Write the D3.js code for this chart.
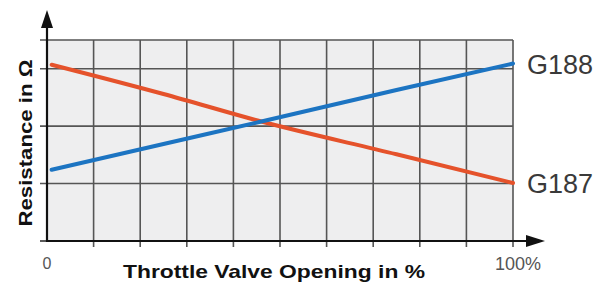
<!DOCTYPE html>
<html lang="en">
<head>
    <meta charset="UTF-8">
    <title>Throttle valve resistance</title>
    <script src="https://d3js.org/d3.v7.min.js"></script>
    <style>
        body {margin: 0; background: #fff;}
        text {font-family: "Liberation Sans", Arial, sans-serif;}
    </style>
</head>
<body>
<script>
    // values: opening in %, resistance in grid units
    const opening = [1, 25, 46, 75, 100];
    const g187 = [3.07, 2.56, 2.08, 1.51, 1.01];
    const g188 = [1.24, 1.69, 2.08, 2.63, 3.09];
    const xTicks = [0, 10, 20, 30, 40, 50, 60, 70, 80, 90, 100];
    const yTicks = [0, 1, 2, 3, 3.5];
    const series = [
        {name: "G187", values: g187, color: "#e5522b"},
        {name: "G188", values: g188, color: "#1c74c2"}
    ];

    const width = 608, height = 283;
    const plotLeft = 47, plotRight = 513, plotTop = 40, plotBottom = 241;

    const svg = d3.select("body").append("svg")
            .attr("width", width).attr("height", height);

    const x = d3.scaleLinear().domain([0, 100]).range([plotLeft, plotRight]);
    const y = d3.scaleLinear().domain([0, 3.5]).range([plotBottom, plotTop]);

    // plot background
    svg.append("rect")
            .attr("x", x(0)).attr("y", y(3.5))
            .attr("width", x(100) - x(0)).attr("height", y(0) - y(3.5))
            .style("fill", "#eeeeef");

    // vertical grid lines with ticks below the axis
    svg.append("g").selectAll("line")
            .data(xTicks.slice(1))
            .enter().append("line")
            .attr("x1", d => x(d)).attr("x2", d => x(d))
            .attr("y1", y(3.5)).attr("y2", y(0) + 6)
            .style("stroke", "#555")
            .style("stroke-width", 1.6);

    // horizontal grid lines with ticks left of the axis
    svg.append("g").selectAll("line")
            .data(yTicks.slice(1))
            .enter().append("line")
            .attr("x1", x(0) - 7).attr("x2", x(100))
            .attr("y1", d => y(d)).attr("y2", d => y(d))
            .style("stroke", "#555")
            .style("stroke-width", 1.6);
    svg.append("line")
            .attr("x1", x(0) - 7).attr("x2", x(0))
            .attr("y1", y(0)).attr("y2", y(0))
            .style("stroke", "#333").style("stroke-width", 1.6);

    // curves
    const line = d3.line()
            .x((d, i) => x(opening[i]))
            .y(d => y(d))
            .curve(d3.curveMonotoneX);

    svg.append("g").selectAll("path")
            .data(series)
            .enter().append("path")
            .attr("d", d => line(d.values))
            .style("fill", "none")
            .style("stroke", d => d.color)
            .style("stroke-width", 4)
            .style("stroke-linecap", "round");

    // axes with arrows
    svg.append("line")
            .attr("x1", x(0)).attr("x2", x(0))
            .attr("y1", y(0) + 1).attr("y2", 26)
            .style("stroke", "#111").style("stroke-width", 2.2);
    svg.append("path")
            .attr("d", `M${x(0)},10 L${x(0) - 6},28 L${x(0) + 6},28 Z`)
            .style("fill", "#111");
    svg.append("line")
            .attr("x1", x(0) - 1).attr("x2", 528)
            .attr("y1", y(0)).attr("y2", y(0))
            .style("stroke", "#111").style("stroke-width", 2.2);
    svg.append("path")
            .attr("d", `M545,${y(0)} L526,${y(0) - 6} L526,${y(0) + 6} Z`)
            .style("fill", "#111");

    // series labels
    svg.append("g").selectAll("text")
            .data(series)
            .enter().append("text")
            .attr("x", 527)
            .attr("y", d => y(d.values[d.values.length - 1]) + 10)
            .style("font-size", "27px")
            .style("fill", "#3a3a3a")
            .text(d => d.name);

    // tick labels
    svg.append("text")
            .attr("x", x(0)).attr("y", 269)
            .attr("text-anchor", "middle")
            .style("font-size", "16px").style("fill", "#555")
            .text("0");
    svg.append("text")
            .attr("x", x(100) + 5).attr("y", 270)
            .attr("text-anchor", "middle")
            .style("font-size", "18px").style("fill", "#555")
            .text("100%");

    // axis titles
    svg.append("text")
            .attr("x", 123).attr("y", 278)
            .attr("textLength", 302).attr("lengthAdjust", "spacingAndGlyphs")
            .style("font-size", "19px").style("font-weight", "bold").style("fill", "#111")
            .text("Throttle Valve Opening in %");
    svg.append("text")
            .attr("transform", "translate(32,143) rotate(-90)")
            .attr("text-anchor", "middle")
            .attr("textLength", 167).attr("lengthAdjust", "spacingAndGlyphs")
            .style("font-size", "19px").style("font-weight", "bold").style("fill", "#111")
            .text("Resistance in Ω");
</script>
</body>
</html>
